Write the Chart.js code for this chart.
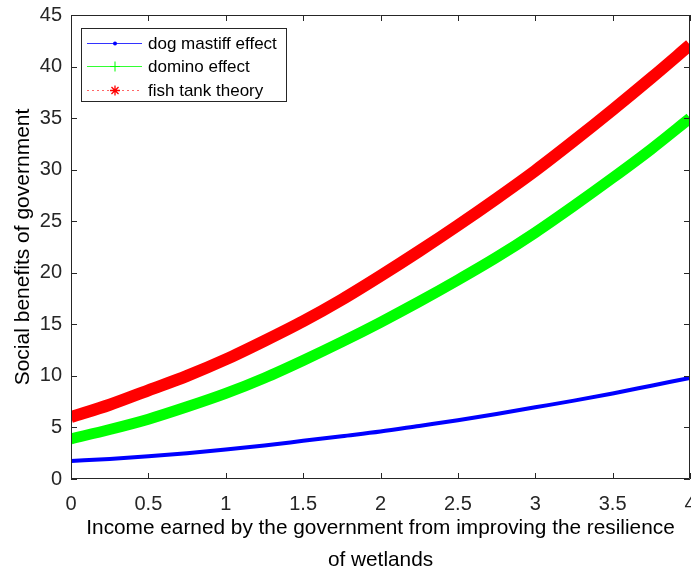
<!DOCTYPE html>
<html>
<head>
<meta charset="utf-8">
<script src="https://cdn.jsdelivr.net/npm/chart.js@4.4.1/dist/chart.umd.min.js"></script>
<style>
  html, body { margin: 0; padding: 0; background: #ffffff; }
  #plot { display: block; }
</style>
</head>
<body>
<canvas id="plot" width="691" height="571"></canvas>
<script>
// Income earned by the government (x) and the resulting social benefits (y)
const income = [0, 0.25, 0.5, 0.75, 1, 1.25, 1.5, 1.75, 2, 2.25, 2.5, 2.75, 3, 3.25, 3.5, 3.75, 4];
const dogMastiff = [1.75, 1.95, 2.2, 2.5, 2.85, 3.25, 3.7, 4.15, 4.6, 5.15, 5.7, 6.3, 6.95, 7.6, 8.3, 9.05, 9.8];
const domino = [3.9, 4.8, 5.8, 7.0, 8.3, 9.8, 11.5, 13.3, 15.2, 17.2, 19.3, 21.5, 23.9, 26.5, 29.2, 32.0, 35.0];
const fishTank = [6.0, 7.2, 8.6, 10.0, 11.6, 13.4, 15.3, 17.4, 19.7, 22.1, 24.6, 27.2, 29.9, 32.8, 35.8, 38.9, 42.1];
const seriesNames = ['dog mastiff effect', 'domino effect', 'fish tank theory'];
const xTicks = [0, 0.5, 1, 1.5, 2, 2.5, 3, 3.5, 4];
const yTicks = [0, 5, 10, 15, 20, 25, 30, 35, 40, 45];

const FONT = '"Liberation Sans", Arial, Helvetica, sans-serif';
const INK = '#262626';

const toPoints = ys => income.map((x, i) => ({ x: x, y: ys[i] }));

// Axes box with inward tick marks on all four sides
const axesBox = {
  id: 'axesBox',
  afterDatasetsDraw(chart) {
    const { ctx, chartArea: a, scales } = chart;
    const len = 6;
    ctx.save();
    ctx.strokeStyle = INK;
    ctx.lineWidth = 1;
    ctx.beginPath();
    ctx.rect(a.left + 0.5, a.top + 0.5, a.right - a.left - 1, a.bottom - a.top - 1);
    xTicks.forEach(v => {
      const px = Math.round(scales.x.getPixelForValue(v)) + 0.5;
      ctx.moveTo(px, a.bottom); ctx.lineTo(px, a.bottom - len);
      ctx.moveTo(px, a.top); ctx.lineTo(px, a.top + len);
    });
    yTicks.forEach(v => {
      const py = Math.round(scales.y.getPixelForValue(v)) + 0.5;
      ctx.moveTo(a.left, py); ctx.lineTo(a.left + len, py);
      ctx.moveTo(a.right, py); ctx.lineTo(a.right - len, py);
    });
    ctx.stroke();
    ctx.restore();
  }
};

// Legend box in the upper-left corner: line sample with its marker, then the label
const legendBox = {
  id: 'legendBox',
  afterDraw(chart) {
    const { ctx, chartArea: a } = chart;
    const x0 = a.left + 10, y0 = a.top + 13, w = 205, h = 73;
    ctx.save();
    ctx.fillStyle = '#ffffff';
    ctx.fillRect(x0, y0, w, h);
    ctx.strokeStyle = INK;
    ctx.lineWidth = 1;
    ctx.strokeRect(x0 + 0.5, y0 + 0.5, w, h);
    const rows = [15.5, 38.5, 62.5];
    const markers = ['dot', 'plus', 'star'];
    chart.data.datasets.forEach((ds, i) => {
      const y = y0 + rows[i];
      const lx1 = x0 + 6, lx2 = x0 + 61, mx = x0 + 34;
      ctx.strokeStyle = ds.borderColor;
      ctx.lineWidth = 1;
      ctx.setLineDash(markers[i] === 'star' ? [2, 3] : []);
      ctx.globalAlpha = markers[i] === 'star' ? 0.6 : 0.8;
      ctx.beginPath(); ctx.moveTo(lx1, y); ctx.lineTo(lx2, y); ctx.stroke();
      ctx.globalAlpha = 1;
      ctx.setLineDash([]);
      ctx.beginPath();
      if (markers[i] === 'dot') {
        ctx.fillStyle = ds.borderColor;
        ctx.arc(mx, y, 2, 0, Math.PI * 2);
        ctx.fill();
      } else if (markers[i] === 'plus') {
        ctx.moveTo(mx - 5, y); ctx.lineTo(mx + 5, y);
        ctx.moveTo(mx, y - 5); ctx.lineTo(mx, y + 5);
        ctx.stroke();
      } else {
        const r = 5;
        for (let k = 0; k < 4; k++) {
          const t = k * Math.PI / 4;
          ctx.moveTo(mx - r * Math.cos(t), y - r * Math.sin(t));
          ctx.lineTo(mx + r * Math.cos(t), y + r * Math.sin(t));
        }
        ctx.lineWidth = 1.3;
        ctx.stroke();
      }
      ctx.fillStyle = '#000000';
      ctx.font = '17px ' + FONT;
      ctx.textBaseline = 'middle';
      ctx.textAlign = 'left';
      ctx.fillText(ds.label, x0 + 67, y + 0.5);
    });
    ctx.restore();
  }
};

new Chart(document.getElementById('plot'), {
  type: 'line',
  data: {
    datasets: [
      { label: seriesNames[0], data: toPoints(dogMastiff), borderColor: '#0000ff', borderWidth: 4 },
      { label: seriesNames[1], data: toPoints(domino), borderColor: '#00ff00', borderWidth: 11 },
      { label: seriesNames[2], data: toPoints(fishTank), borderColor: '#ff0000', borderWidth: 12 }
    ]
  },
  options: {
    responsive: false,
    animation: false,
    devicePixelRatio: 1,
    layout: { padding: { top: 15, right: 1, left: 0, bottom: 0 } },
    elements: {
      point: { radius: 0, hoverRadius: 0 },
      line: { cubicInterpolationMode: 'monotone', fill: false, borderCapStyle: 'butt' }
    },
    plugins: {
      legend: { display: false },
      tooltip: { enabled: false }
    },
    scales: {
      x: {
        type: 'linear',
        min: 0, max: 4,
        afterBuildTicks: s => { s.ticks = xTicks.map(v => ({ value: v })); },
        ticks: { color: INK, font: { family: FONT, size: 20 }, padding: 13, maxRotation: 0, callback: v => String(v) },
        grid: { display: false, drawTicks: false },
        border: { display: false },
        title: {
          display: true,
          text: ['Income earned by the government from improving the resilience', 'of wetlands'],
          color: '#000000',
          font: { family: FONT, size: 20.8, lineHeight: 1.5 },
          padding: { top: 0, bottom: -4.5 }
        },
        afterFit: s => { s.height = 92; s.paddingLeft = 0; s.paddingRight = 0; }
      },
      y: {
        type: 'linear',
        min: 0, max: 45,
        afterBuildTicks: s => { s.ticks = yTicks.map(v => ({ value: v })); },
        ticks: { color: INK, font: { family: FONT, size: 20 }, padding: 9, callback: v => String(v) },
        grid: { display: false, drawTicks: false },
        border: { display: false },
        title: {
          display: true,
          text: 'Social benefits of government',
          color: '#000000',
          font: { family: FONT, size: 21 },
          padding: { top: 11, bottom: 0 }
        },
        afterFit: s => { s.width = 71; s.paddingTop = 0; s.paddingBottom = 0; }
      }
    }
  },
  plugins: [axesBox, legendBox]
});
</script>
</body>
</html>
